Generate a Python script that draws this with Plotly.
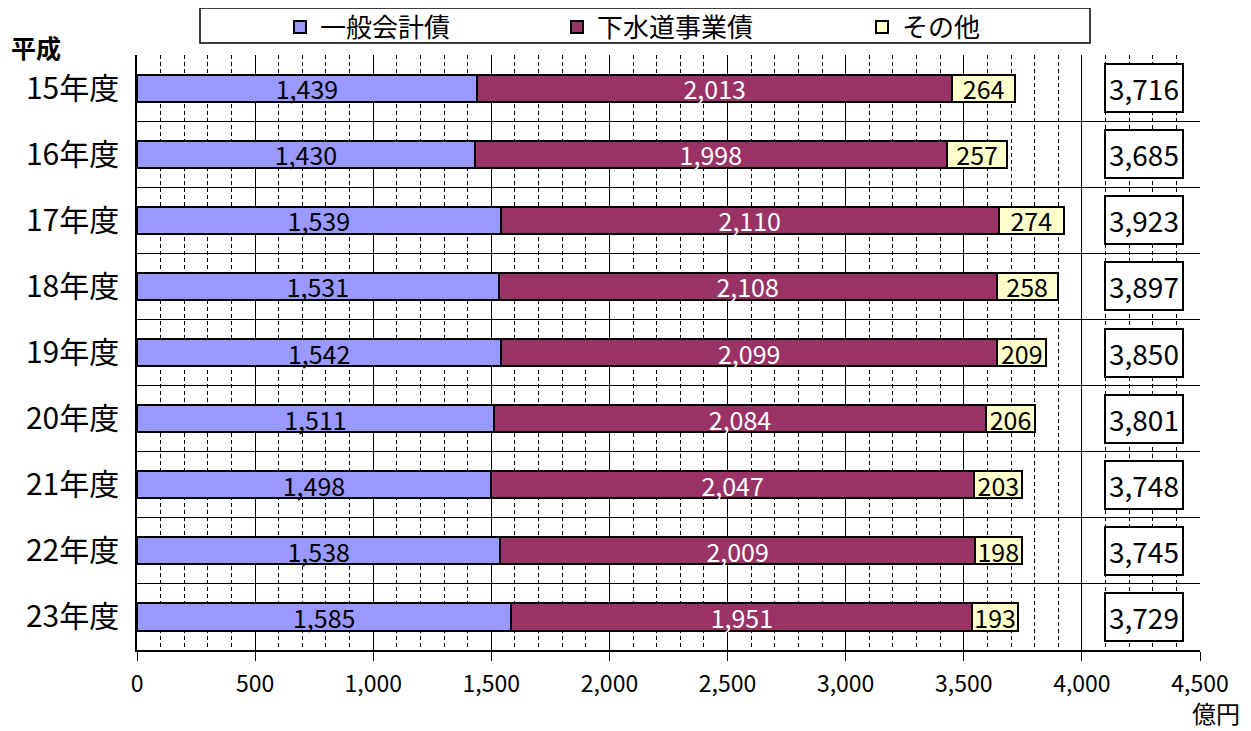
import plotly.graph_objects as go

years = ["15年度", "16年度", "17年度", "18年度", "19年度", "20年度", "21年度", "22年度", "23年度"]
general = [1439, 1430, 1539, 1531, 1542, 1511, 1498, 1538, 1585]
sewer = [2013, 1998, 2110, 2108, 2099, 2084, 2047, 2009, 1951]
other = [264, 257, 274, 258, 209, 206, 203, 198, 193]
totals = [3716, 3685, 3923, 3897, 3850, 3801, 3748, 3745, 3729]
series_names = ["一般会計債", "下水道事業債", "その他"]
colors = ["#9999FF", "#993366", "#FFFFCC"]
text_colors = ["#000000", "#FFFFFF", "#000000"]

FONT = "Noto Sans CJK JP"

# the page body has an 8px margin; work in figure pixels (screen - 8)
OFF = 8
W, H = 1251 - OFF, 731 - OFF
PL, PR, PT, PB = 137 - OFF, 1200 - OFF, 55 - OFF, 650 - OFF  # plot area in figure px
PW, PH = PR - PL, PB - PT


def px(sx):
    return (sx - OFF - PL) / PW


def py(sy):
    return 1 - (sy - OFF - PT) / PH


legend_ids = ["legend", "legend2", "legend3"]
legend_x = [280, 557, 862]

fig = go.Figure()
for name, vals, col, tcol, lid in zip(series_names, [general, sewer, other], colors,
                                      text_colors, legend_ids):
    fig.add_trace(go.Bar(
        y=years, x=vals, name=name, orientation="h",
        marker=dict(color=col, line=dict(color="black", width=2)),
        width=0.41,
        text=[f"{v:,}" for v in vals],
        textposition="inside", insidetextanchor="middle",
        textfont=dict(family=FONT, size=25, color=tcol),
        constraintext="none",
        hoverinfo="skip",
        legend=lid,
    ))

for y, t in zip(years, totals):
    fig.add_annotation(
        x=4262, y=y, xref="x", yref="y", text=f"{t:,}", showarrow=False,
        font=dict(family=FONT, size=28, color="black"),
        bgcolor="white", bordercolor="black", borderwidth=2, borderpad=3,
    )

fig.add_annotation(x=px(9), y=py(47), xref="paper", yref="paper", text="<b>平成</b>",
                   showarrow=False, xanchor="left", yanchor="middle",
                   font=dict(family=FONT, size=25, color="black"))
fig.add_annotation(x=px(1242), y=py(712), xref="paper", yref="paper",
                   text="億円", showarrow=False, xanchor="right", yanchor="middle",
                   font=dict(family=FONT, size=24, color="black"))

# legend frame
fig.add_shape(type="rect", xref="paper", yref="paper",
              x0=px(200), x1=px(1090), y0=py(43), y1=py(8),
              line=dict(color="black", width=1.5), fillcolor="white", layer="below")

legend_common = dict(orientation="h", y=py(27), xanchor="left", yanchor="middle",
                     font=dict(family=FONT, size=26, color="black"),
                     bgcolor="rgba(0,0,0,0)", borderwidth=0)

fig.update_layout(
    width=W, height=H,
    barmode="stack",
    plot_bgcolor="white", paper_bgcolor="white",
    margin=dict(l=PL, r=W - PR, t=PT, b=H - PB, autoexpand=False),
    font=dict(family=FONT, color="black"),
    showlegend=True,
    legend=dict(x=px(legend_x[0]), **legend_common),
    legend2=dict(x=px(legend_x[1]), **legend_common),
    legend3=dict(x=px(legend_x[2]), **legend_common),
    xaxis=dict(range=[0, 4500], dtick=500, tickformat=",", showgrid=True,
               gridcolor="black", gridwidth=1, zeroline=False, automargin=False,
               showline=True, linecolor="black", linewidth=1.5, mirror=False,
               ticks="outside", ticklen=9, tickcolor="black", ticklabelstandoff=4,
               tickfont=dict(family=FONT, size=23, color="black"),
               minor=dict(dtick=100, showgrid=True, gridcolor="black",
                          griddash="4px,3px", gridwidth=1)),
    yaxis=dict(type="category", autorange="reversed", tickson="boundaries",
               showgrid=True, gridcolor="black", gridwidth=1, automargin=False,
               showline=True, linecolor="black", linewidth=1.5,
               ticks="", ticklabelstandoff=10,
               tickfont=dict(family=FONT, size=30, color="black")),
)

fig.write_html("out.html")
